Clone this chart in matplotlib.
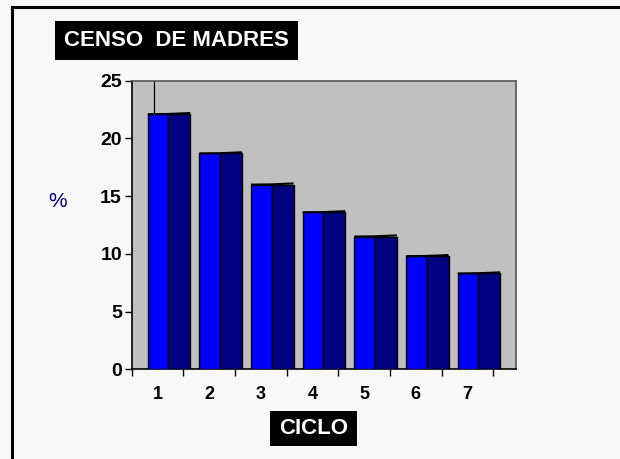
import matplotlib
matplotlib.use("Agg")
import matplotlib.pyplot as plt
from matplotlib.lines import Line2D
from matplotlib.patches import Rectangle

categories = ["1", "2", "3", "4", "5", "6", "7"]
values = [22.1, 18.7, 16.0, 13.6, 11.5, 9.8, 8.3]
yticks = [0, 5, 10, 15, 20, 25]
title_text = "CENSO  DE MADRES"
xlabel_text = "CICLO"
ylabel_text = "%"

plt.rcParams['font.family'] = ['Liberation Sans', 'DejaVu Sans']

fig = plt.figure(figsize=(6.2, 4.59), dpi=100)
fig.patch.set_facecolor('#F8F8F8')

ax = fig.add_axes([0.2124, 0.1954, 0.6198, 0.6288])
ax.set_facecolor('#C0C0C0')

x = list(range(len(categories)))
front_left = [i - 0.19 for i in x]
side_left = [i + 0.208 for i in x]
ax.bar(front_left, values, width=0.398, align='edge', color='#0000FF',
       edgecolor='black', linewidth=1.0, zorder=3)
ax.bar(side_left, values, width=0.426, align='edge', color='#000080',
       edgecolor='black', linewidth=1.0, zorder=3)
# thin top edge of each column
for i, v in zip(x, values):
    ax.plot([i - 0.19, i + 0.208, i + 0.634], [v, v + 0.02, v + 0.1],
            color='black', lw=1.5, zorder=4, solid_capstyle='butt')

# back-wall corner line
ax.plot([-0.068, -0.068], [values[0], 25], color='black', lw=0.9, zorder=2)

ax.set_xlim(-0.5, 6.94)
ax.set_ylim(0, 25)
ax.set_yticks(yticks)
ax.set_yticklabels([str(t) for t in yticks], fontsize=14, fontweight='bold')
ax.set_xticks([i + 0.5 for i in range(-1, len(categories))])
ax.set_xticklabels([])
ax.set_xticks(x, minor=True)
ax.set_xticklabels(categories, minor=True, fontsize=13, fontweight='bold')
ax.tick_params(axis='x', which='minor', length=0, pad=12)
ax.tick_params(axis='x', which='major', length=5, width=1, direction='out')
ax.tick_params(axis='y', length=5, width=1, direction='out', pad=2)

for s in ['left', 'bottom']:
    ax.spines[s].set_color('black')
    ax.spines[s].set_linewidth(1.2)
for s in ['top', 'right']:
    ax.spines[s].set_color('#555555')
    ax.spines[s].set_linewidth(1.2)

# title box
fig.add_artist(Rectangle((0.0887, 0.8693), 0.3919, 0.0849, facecolor='black',
                         edgecolor='none', transform=fig.transFigure))
fig.text(0.2847, 0.9107, title_text, fontsize=16, fontweight='bold', color='white',
         ha='center', va='center')
# x label box
fig.add_artist(Rectangle((0.4355, 0.0283), 0.1403, 0.0763, facecolor='black',
                         edgecolor='none', transform=fig.transFigure))
fig.text(0.5056, 0.0664, xlabel_text, fontsize=16, fontweight='bold', color='white',
         ha='center', va='center')
# y label
fig.text(0.0935, 0.562, ylabel_text, fontsize=15, color='#000080', ha='center', va='center')

# outer frame (top and left)
fig.add_artist(Line2D([0.019, 1.0], [0.984, 0.984], color='black', lw=2.2,
                      transform=fig.transFigure))
fig.add_artist(Line2D([0.019, 0.019], [0.0, 0.984], color='black', lw=2.2,
                      transform=fig.transFigure))

fig.savefig('out.png', dpi=100, facecolor=fig.get_facecolor())
